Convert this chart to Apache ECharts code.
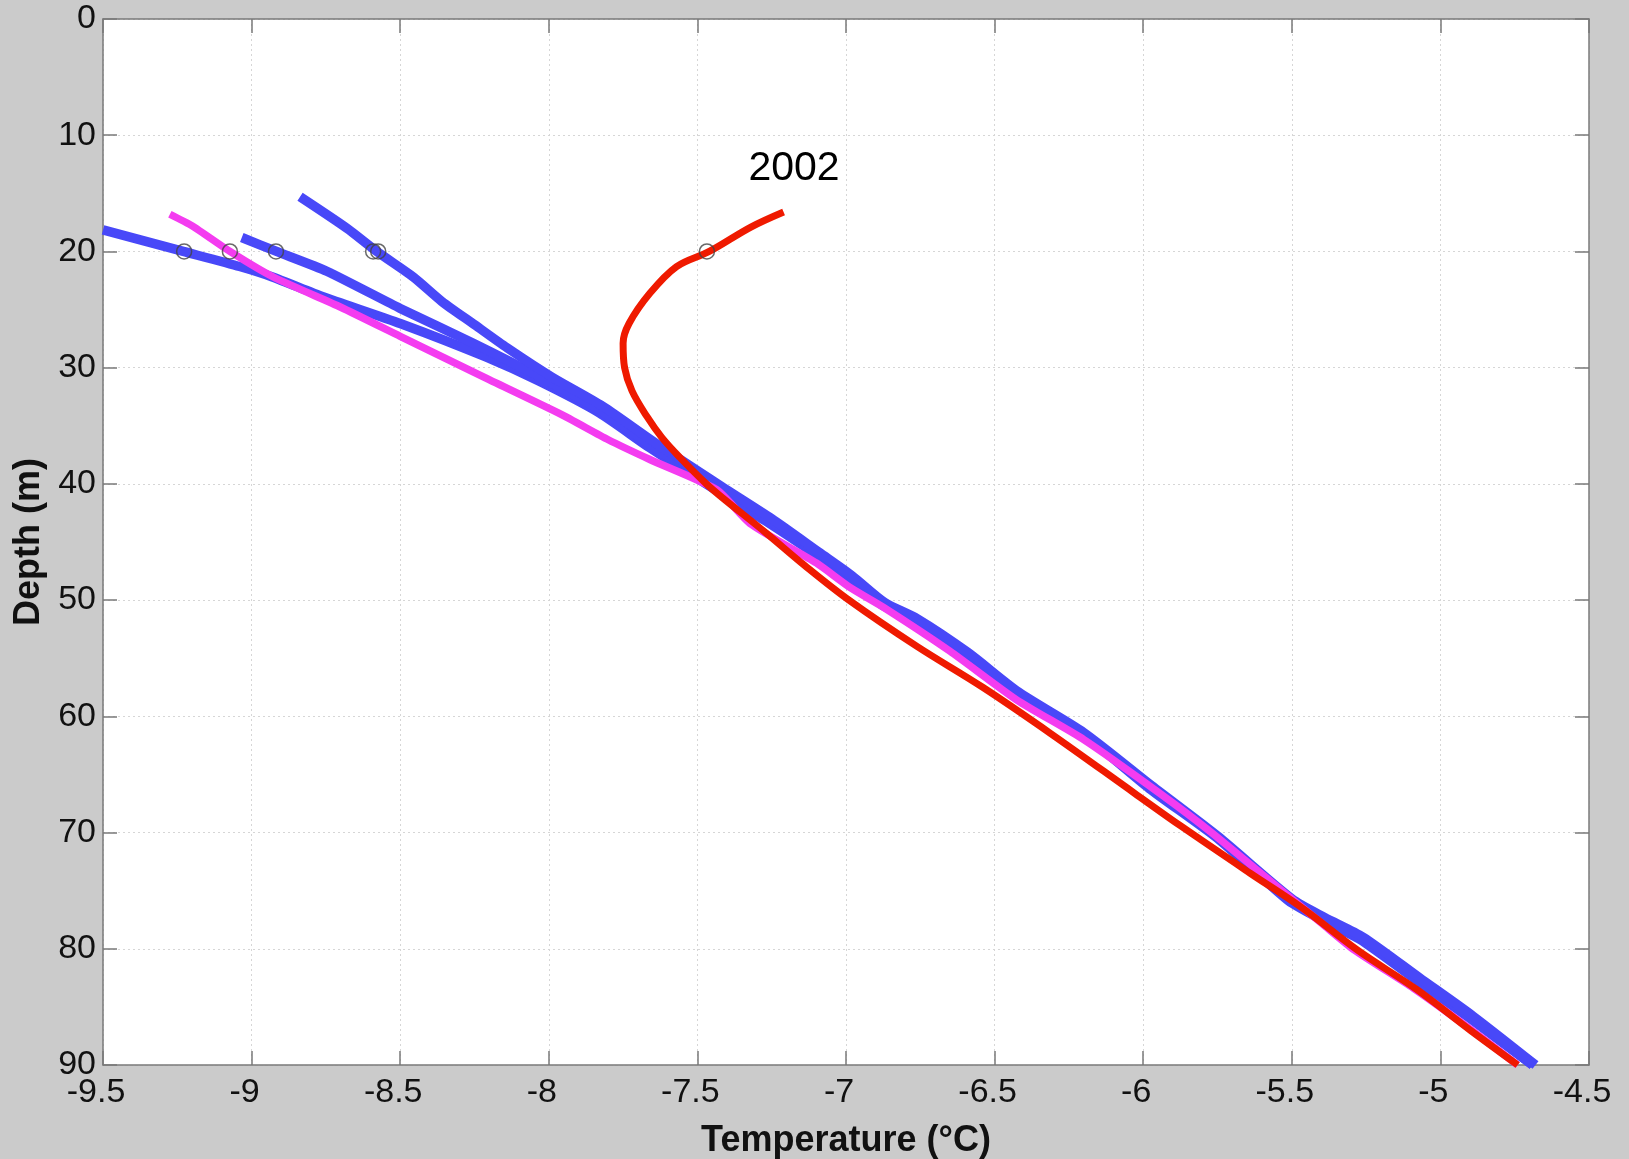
<!DOCTYPE html>
<html>
<head>
<meta charset="utf-8">
<script src="https://cdn.jsdelivr.net/npm/echarts@6/dist/echarts.min.js"></script>
<style>
html,body{margin:0;padding:0;background:#cbcbcb;overflow:hidden;}
#chart{width:1629px;height:1159px;}
</style>
</head>
<body>
<div id="chart"></div>
<script>
// ---- Data: [temperature °C, depth m] ----
const xTicks = [-9.5, -4.5, 0.5];   // min, max, step
const yTicks = [0, 90, 10];
const blueA = [[-9.5,18.15],[-9.23,20.0],[-9.04,21.3],[-8.93,22.2],[-8.76,23.9],[-8.50,26.2],[-8.21,29.1],[-8.03,31.2],[-7.83,33.9],[-7.66,36.9],[-7.44,40.5],[-7.27,43.2],[-7.10,46.1],[-6.99,48.1],[-6.88,50.4],[-6.77,51.8],[-6.60,54.7],[-6.43,58.1],[-6.20,61.6],[-5.98,66.2],[-5.75,70.5],[-5.51,75.9],[-5.40,77.5],[-5.27,79.2],[-5.08,82.7],[-4.90,86.0],[-4.69,90.0]];
const blueB = [[-9.033,18.8],[-8.916,20.0],[-8.747,21.7],[-8.50,24.9],[-8.254,27.9],[-8.03,30.8],[-7.83,33.6],[-7.65,36.8],[-7.43,40.4],[-7.26,43.1],[-7.09,46.0],[-6.98,48.0],[-6.87,50.3],[-6.76,51.7],[-6.59,54.6],[-6.42,58.0],[-6.20,61.5],[-5.97,66.1],[-5.75,70.4],[-5.50,75.8],[-5.39,77.4],[-5.27,79.1],[-5.08,82.6],[-4.90,85.9],[-4.69,90.0]];
const blueC = [[-8.837,15.3],[-8.68,18.0],[-8.579,20.0],[-8.456,22.2],[-8.36,24.3],[-8.25,26.3],[-8.14,28.3],[-7.99,30.8],[-7.82,33.3],[-7.64,36.5],[-7.42,40.2],[-7.25,43.0],[-7.09,45.9],[-6.98,47.9],[-6.87,50.2],[-6.76,51.6],[-6.59,54.5],[-6.42,57.9],[-6.20,61.4],[-5.97,66.0],[-5.75,70.3],[-5.50,75.7],[-5.39,77.3],[-5.26,79.0],[-5.07,82.5],[-4.89,85.8],[-4.68,90.0]];
const magenta = [[-9.275,16.8],[-9.20,17.8],[-9.073,20.0],[-8.927,22.2],[-8.70,24.8],[-8.50,27.3],[-8.22,30.8],[-7.96,34.0],[-7.80,36.2],[-7.66,37.9],[-7.435,40.5],[-7.323,43.4],[-7.10,46.8],[-6.987,48.9],[-6.875,50.6],[-6.65,54.4],[-6.425,58.6],[-6.20,62.0],[-5.94,66.7],[-5.77,70.0],[-5.51,75.5],[-5.40,77.8],[-5.29,80.1],[-5.09,83.4],[-4.90,86.9],[-4.74,90.0]];
const red2002 = [[-7.21,16.6],[-7.32,17.9],[-7.46,20.0],[-7.57,21.3],[-7.66,23.6],[-7.73,26.2],[-7.75,27.9],[-7.745,30.0],[-7.72,32.0],[-7.67,34.2],[-7.62,36.0],[-7.56,37.7],[-7.47,40.0],[-7.42,41.1],[-7.27,44.2],[-7.14,47.0],[-6.99,50.0],[-6.76,54.0],[-6.54,57.5],[-6.31,61.5],[-6.03,66.6],[-5.87,69.5],[-5.64,73.5],[-5.47,76.4],[-5.28,80.1],[-5.08,83.5],[-4.90,87.0],[-4.74,90.0]];
const circles20m = [[-9.227,20],[-9.073,20],[-8.918,20],[-8.591,20],[-8.574,20],[-7.468,20]];
const labelText = '2002';
const labelPos = [-7.175,12.9];

const FONT = '"Liberation Sans", Arial, Helvetica, sans-serif';
const axisGray = '#7a7a7a';
const chart = echarts.init(document.getElementById('chart'), null, {renderer:'canvas'});

function lineSeries(data, color, width, z, smooth){
  return {type:'line', data:data, showSymbol:false, symbol:'none', smooth:smooth||false,
    lineStyle:{color:color, width:width, cap:'butt', join:'round'}, z:z, clip:true};
}

const option = {
  backgroundColor:'#cbcbcb',
  animation:false,
  grid:{left:103, right:40, top:19, bottom:94, show:true, backgroundColor:'#ffffff', borderWidth:0,
        containLabel:false, outerBoundsMode:'none'},
  xAxis:[{
    type:'value', min:xTicks[0], max:xTicks[1], interval:xTicks[2], position:'bottom',
    name:'Temperature (°C)', nameLocation:'middle', nameGap:58,
    nameTextStyle:{fontFamily:FONT, fontSize:36, fontWeight:'bold', color:'#111'},
    axisLine:{show:true, onZero:false, lineStyle:{color:axisGray, width:1.5}},
    axisTick:{show:true, inside:true, length:14, lineStyle:{color:axisGray, width:1.5}},
    axisLabel:{fontFamily:FONT, fontSize:34, color:'#111', margin:11, padding:[0,14,0,0]},
    splitLine:{show:true, lineStyle:{color:'#d6d6d6', width:1, type:[2,3]}}
  },{
    type:'value', min:xTicks[0], max:xTicks[1], interval:xTicks[2], position:'top',
    axisLine:{show:true, onZero:false, lineStyle:{color:axisGray, width:1.5}},
    axisTick:{show:true, inside:true, length:14, lineStyle:{color:axisGray, width:1.5}},
    axisLabel:{show:false}, splitLine:{show:false}
  }],
  yAxis:[{
    type:'value', min:yTicks[0], max:yTicks[1], interval:yTicks[2], inverse:true, position:'left',
    name:'Depth (m)', nameLocation:'middle', nameGap:47,
    nameTextStyle:{fontFamily:FONT, fontSize:36, fontWeight:'bold', color:'#111'},
    axisLine:{show:true, onZero:false, lineStyle:{color:axisGray, width:1.5}},
    axisTick:{show:true, inside:true, length:14, lineStyle:{color:axisGray, width:1.5}},
    axisLabel:{fontFamily:FONT, fontSize:34, color:'#111', margin:7},
    splitLine:{show:true, lineStyle:{color:'#d6d6d6', width:1, type:[2,3]}}
  },{
    type:'value', min:yTicks[0], max:yTicks[1], interval:yTicks[2], inverse:true, position:'right',
    axisLine:{show:true, onZero:false, lineStyle:{color:axisGray, width:1.5}},
    axisTick:{show:true, inside:true, length:14, lineStyle:{color:axisGray, width:1.5}},
    axisLabel:{show:false}, splitLine:{show:false}
  }],
  series:[
    lineSeries(blueA, '#4848f8', 9.5, 2, 0.2),
    lineSeries(blueB, '#4848f8', 9.5, 2, 0.2),
    lineSeries(blueC, '#4848f8', 9.5, 2, 0.25),
    lineSeries(magenta, '#f43cf0', 7.5, 3, 0.2),
    Object.assign(lineSeries(red2002, '#ef1a00', 7, 4, 0.35), {
      markPoint:{symbol:'circle', symbolSize:0, silent:true,
        data:[{coord:labelPos, value:labelText}],
        label:{show:true, position:'inside', formatter:labelText, fontFamily:FONT, fontSize:41, color:'#000'}}
    }),
    {type:'scatter', data:circles20m, symbol:'circle', symbolSize:15, z:5,
     itemStyle:{color:'rgba(0,0,0,0)', borderColor:'#444', borderWidth:1.5}}
  ]
};
chart.setOption(option);
</script>
</body>
</html>
